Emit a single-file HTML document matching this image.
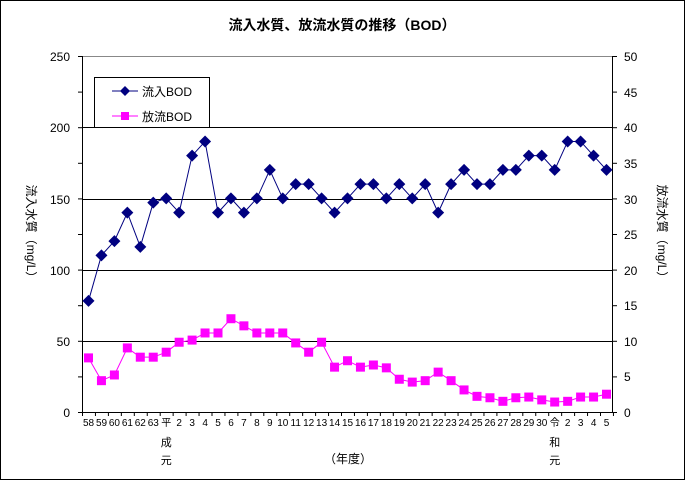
<!DOCTYPE html>
<html><head><meta charset="utf-8"><style>
html,body{margin:0;padding:0;background:#fff}
svg text{font-family:"Liberation Sans","Noto Sans CJK JP",sans-serif;fill:#000}
</style></head><body>
<svg id="c" width="685" height="480" viewBox="0 0 685 480" xmlns="http://www.w3.org/2000/svg">
<rect x="0.5" y="0.5" width="684" height="479" fill="#fff" stroke="#000"/>
<text x="342" y="30" font-size="14" font-weight="bold" text-anchor="middle">流入水質、放流水質の推移（BOD）</text>
<line x1="82" y1="56.5" x2="613" y2="56.5" stroke="#888"/>
<g stroke="#000" stroke-width="1">
<line x1="82" y1="127.5" x2="613" y2="127.5"/>
<line x1="82" y1="199.5" x2="613" y2="199.5"/>
<line x1="82" y1="270.5" x2="613" y2="270.5"/>
<line x1="82" y1="341.5" x2="613" y2="341.5"/>
<line x1="82.5" y1="56" x2="82.5" y2="413"/>
<line x1="612.5" y1="56" x2="612.5" y2="413"/>
<line x1="82" y1="412.5" x2="613" y2="412.5"/>
</g>
<g id="ticks" stroke="#000"></g>
<g font-size="12" text-anchor="end">
<text x="70" y="61">250</text><text x="70" y="132">200</text><text x="70" y="204">150</text>
<text x="70" y="275">100</text><text x="70" y="346">50</text><text x="70" y="417">0</text>
</g>
<g font-size="12" text-anchor="start">
<text x="624" y="61">50</text><text x="624" y="97">45</text><text x="624" y="132">40</text>
<text x="624" y="168">35</text><text x="624" y="204">30</text><text x="624" y="239">25</text>
<text x="624" y="275">20</text><text x="624" y="310">15</text><text x="624" y="346">10</text>
<text x="624" y="381">5</text><text x="624" y="417">0</text>
</g>
<text transform="translate(27,234) rotate(90)" font-size="12" text-anchor="middle">流入水質（mg/L）</text>
<text transform="translate(658,234) rotate(90)" font-size="12" text-anchor="middle">放流水質（mg/L）</text>
<g font-size="10" text-anchor="middle">
<text x="88.5" y="426">58</text><text x="101.5" y="426">59</text><text x="114.4" y="426">60</text><text x="127.4" y="426">61</text><text x="140.3" y="426">62</text><text x="153.3" y="426">63</text><text x="166.2" y="426">平</text><text x="179.2" y="426">2</text><text x="192.1" y="426">3</text><text x="205.1" y="426">4</text><text x="218" y="426">5</text><text x="231" y="426">6</text><text x="243.9" y="426">7</text><text x="256.9" y="426">8</text><text x="269.8" y="426">9</text><text x="282.8" y="426">10</text><text x="295.7" y="426">11</text><text x="308.7" y="426">12</text><text x="321.6" y="426">13</text><text x="334.6" y="426">14</text><text x="347.5" y="426">15</text><text x="360.5" y="426">16</text><text x="373.4" y="426">17</text><text x="386.4" y="426">18</text><text x="399.3" y="426">19</text><text x="412.3" y="426">20</text><text x="425.2" y="426">21</text><text x="438.2" y="426">22</text><text x="451.1" y="426">23</text><text x="464.1" y="426">24</text><text x="477" y="426">25</text><text x="490" y="426">26</text><text x="502.9" y="426">27</text><text x="515.9" y="426">28</text><text x="528.8" y="426">29</text><text x="541.8" y="426">30</text><text x="554.7" y="426">令</text><text x="567.7" y="426">2</text><text x="580.6" y="426">3</text><text x="593.6" y="426">4</text><text x="606.5" y="426">5</text>
<text x="166.2" y="446" font-size="11">成</text><text x="166.2" y="464" font-size="11">元</text>
<text x="554.7" y="446" font-size="11">和</text><text x="554.7" y="464" font-size="11">元</text>
<text x="348" y="463" font-size="12">（年度）</text>
</g>
<polyline id="l1" fill="none" stroke="#000080" stroke-width="1"/>
<polyline id="l2" fill="none" stroke="#ff00ff" stroke-width="1"/>
<g id="m"></g>
<rect x="94.5" y="77.5" width="115" height="50" fill="#fff" stroke="#000"/>
<line x1="112" y1="91" x2="138" y2="91" stroke="#000080"/>
<polygon points="125,86 130,91 125,96 120,91" fill="#000080"/>
<text x="142" y="96" font-size="12">流入BOD</text>
<line x1="112" y1="116" x2="138" y2="116" stroke="#ff00ff"/>
<rect x="121" y="112" width="8" height="8" fill="#ff00ff"/>
<text x="142" y="121" font-size="12">放流BOD</text>
</svg>
<script>
var a=[78,110,120,140,116,147,150,140,180,190,140,150,140,150,170,150,160,160,150,140,150,160,160,150,160,150,160,140,160,170,160,160,170,170,180,180,170,190,190,180,170];
var b=[7.6,4.4,5.2,9.0,7.7,7.7,8.4,9.8,10.1,11.1,11.1,13.1,12.1,11.1,11.1,11.1,9.7,8.4,9.8,6.3,7.2,6.3,6.6,6.2,4.6,4.2,4.4,5.6,4.4,3.1,2.2,2.0,1.5,2.0,2.1,1.7,1.4,1.5,2.1,2.1,2.5];
var NS="http://www.w3.org/2000/svg",p1=[],p2=[],m=document.getElementById('m'),t=document.getElementById('ticks');
function el(n,at,par){var e=document.createElementNS(NS,n);for(var k in at)e.setAttribute(k,at[k]);par.appendChild(e);}
for(var i=0;i<=41;i++){var tx=82.5+12.95*i;el('line',{x1:tx,y1:412,x2:tx,y2:416},t);}
for(var k=0;k<=10;k++){var ty=412.5-35.6*k;el('line',{x1:78,y1:ty,x2:82,y2:ty},t);el('line',{x1:612,y1:ty,x2:617,y2:ty},t);}
for(var i=0;i<41;i++){var x=88.5+12.95*i,y1=412-a[i]*1.424,y2=412-b[i]*7.12;p1.push(x+','+y1);p2.push(x+','+y2);
el('rect',{x:x-4.5,y:y2-4.5,width:9,height:9,fill:'#ff00ff'},m);
el('polygon',{points:(x)+','+(y1-6)+' '+(x+6)+','+y1+' '+x+','+(y1+6)+' '+(x-6)+','+y1,fill:'#000080'},m);}
document.getElementById('l1').setAttribute('points',p1.join(' '));
document.getElementById('l2').setAttribute('points',p2.join(' '));
</script>
</body></html>
